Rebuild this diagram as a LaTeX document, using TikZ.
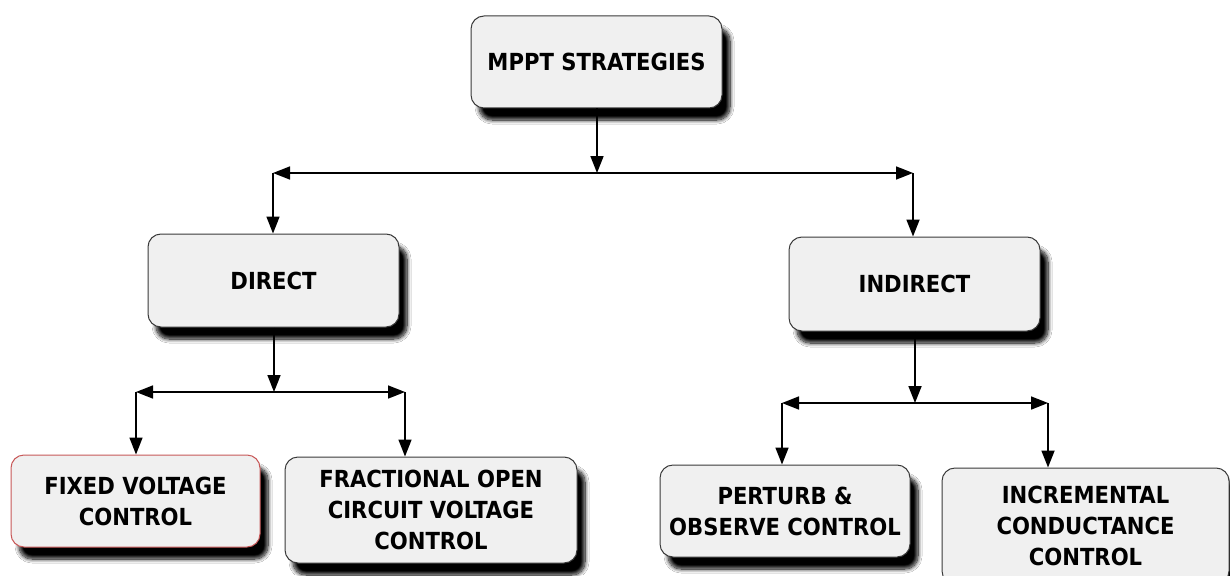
\documentclass[tikz,border=0pt]{standalone}
\usepackage{fontspec}
\setmainfont{DejaVu Sans}
\newfontfamily\boxfont{DejaVu Sans Condensed}
\usetikzlibrary{arrows.meta,shadows.blur}
\definecolor{boxfill}{HTML}{F0F0F0}
\definecolor{boxline}{HTML}{3A3A3A}
\definecolor{redline}{HTML}{C85858}
\tikzset{
  box/.style={draw=boxline, line width=1pt, fill=boxfill, rounded corners=13pt,
    inner sep=0pt, align=center,
    font=\boxfont\fontsize{23.5}{31}\selectfont\bfseries,
    blur shadow={shadow xshift=8pt, shadow yshift=-12pt, shadow opacity=100,
      shadow blur steps=10, shadow blur radius=4pt, shadow blur extra rounding=2pt}},
  arr/.style={line width=1.7pt, -{Triangle[length=17pt,width=13pt]}},
  dbl/.style={line width=1.7pt, {Triangle[length=17pt,width=13pt]}-{Triangle[length=17pt,width=13pt]}},
}
\begin{document}
\begin{tikzpicture}[x=1pt,y=-1pt]
\useasboundingbox[fill=white] (0,0) rectangle (1230,575);
% boxes
\node[box, minimum width=251pt, minimum height=92pt] (top) at (596.5,62) {MPPT STRATEGIES};
\node[box, minimum width=251pt, minimum height=93pt] (direct) at (273.5,280.5) {DIRECT};
\node[box, minimum width=251pt, minimum height=94pt] (indirect) at (914.5,284) {INDIRECT};
\node[box, draw=redline, minimum width=249pt, minimum height=92pt] (fixed) at (135.5,501) {FIXED VOLTAGE\\CONTROL};
\node[box, minimum width=292pt, minimum height=106pt] (frac) at (431,510) {FRACTIONAL OPEN\\CIRCUIT VOLTAGE\\CONTROL};
\node[box, minimum width=250pt, minimum height=92pt] (perturb) at (785,511) {PERTURB \&\\OBSERVE CONTROL};
\node[box, minimum width=287pt, minimum height=116pt] (incr) at (1085.5,526) {INCREMENTAL\\CONDUCTANCE\\CONTROL};
% junction coordinates
\coordinate (j1) at (597,173);
\coordinate (l1) at (273,173);
\coordinate (r1) at (913,173);
\coordinate (j2) at (274,392);
\coordinate (l2) at (136,392);
\coordinate (r2) at (405,392);
\coordinate (j3) at (915,403);
\coordinate (l3) at (782,403);
\coordinate (r3) at (1048,403);
% connectors
\draw[arr] (top.south -| j1) -- (j1);
\draw[dbl] (l1) -- (r1);
\draw[arr] (l1) -- (l1 |- direct.north);
\draw[arr] (r1) -- (r1 |- indirect.north);
\draw[arr] (direct.south -| j2) -- (j2);
\draw[dbl] (l2) -- (r2);
\draw[arr] (l2) -- (l2 |- fixed.north);
\draw[arr] (r2) -- (r2 |- frac.north);
\draw[arr] (indirect.south -| j3) -- (j3);
\draw[dbl] (l3) -- (r3);
\draw[arr] (l3) -- (l3 |- perturb.north);
\draw[arr] (r3) -- (r3 |- incr.north);
\end{tikzpicture}
\end{document}
